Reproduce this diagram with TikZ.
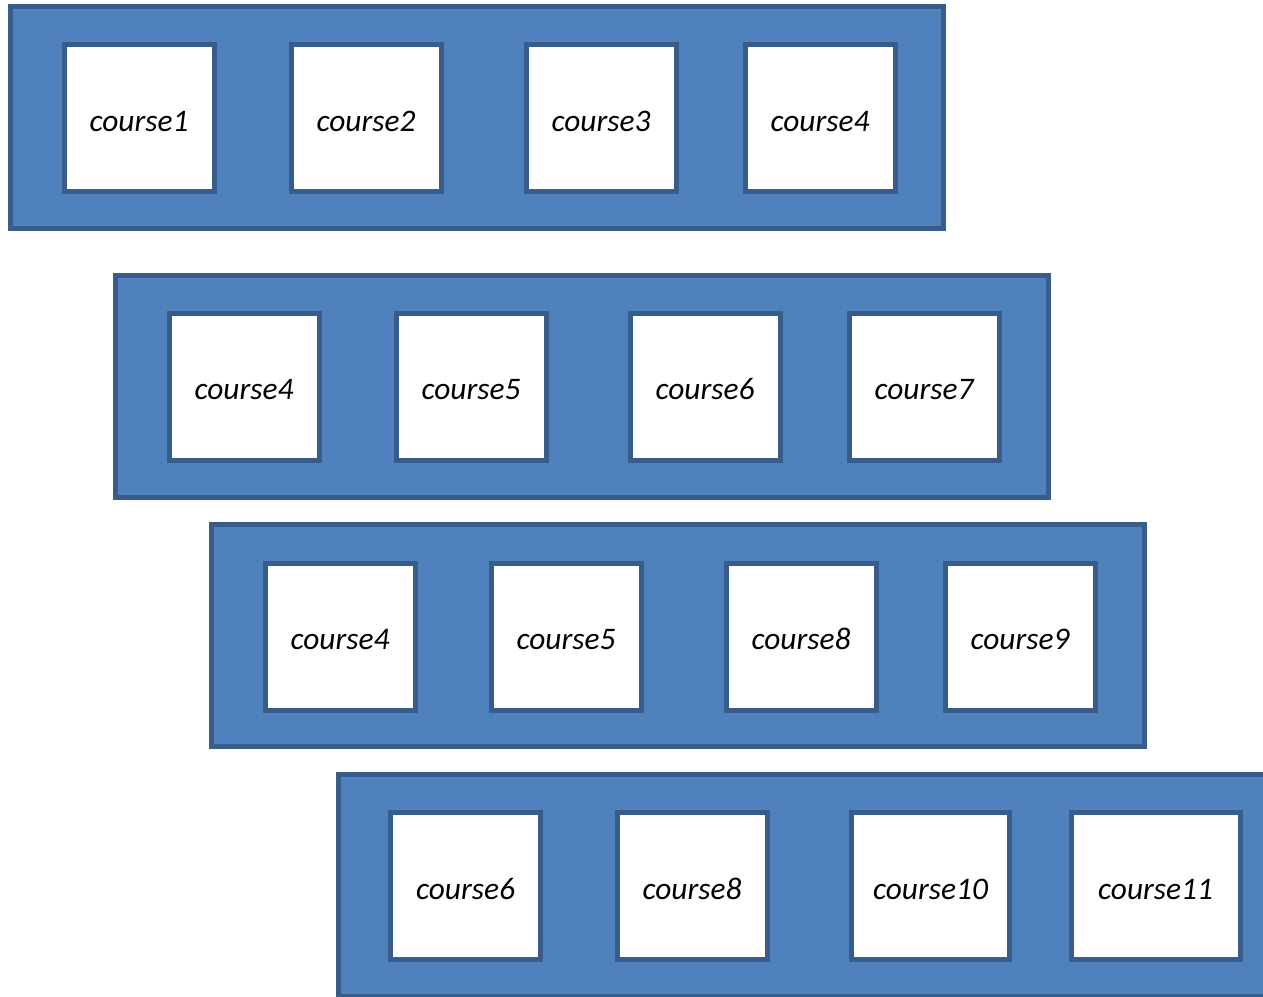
\documentclass[tikz,border=0pt]{standalone}
\usepackage{fontspec}
\setmainfont{Carlito}
\definecolor{laneblue}{HTML}{4F81BD}
\definecolor{laneedge}{HTML}{385D8A}
\begin{document}
\begin{tikzpicture}[x=0.5pt,y=-0.5pt]

    \tikzset{
      lane/.style={
        draw=laneedge,
        fill=laneblue,
        line width=2.5pt,
        anchor=north west,
        outer sep=0pt,
        inner sep=0pt,
        minimum width=466.5pt,
        minimum height=111pt,
      },
      course/.style={
        draw=laneedge,
        fill=white,
        line width=2.5pt,
        anchor=north west,
        outer sep=0pt,
        inner sep=0pt,
        minimum width=75pt,
        minimum height=73.5pt,
        text height=13pt,
        text depth=0pt,
        font=\fontsize{15.7}{18}\selectfont\itshape,
      },
    }
    \useasboundingbox (0,0) rectangle (1263,996);
    \clip (0,0) rectangle (1263,996);

	\node[lane] (lane1) at (10.5,6.5) {};
	\node[lane] (lane2) at (115.5,275.5) {};
	\node[lane] (lane3) at (211.5,524.5) {};
	\node[lane] (lane4) at (338.5,774.5) {};

	\node[course] (r1c1) at (64,44.5) {course1};
	\node[course] (r1c2) at (291,44.5) {course2};
	\node[course] (r1c3) at (526,44.5) {course3};
	\node[course] (r1c4) at (745,44.5) {course4};

	\node[course] (r2c1) at (169,313) {course4};
	\node[course] (r2c2) at (396,313) {course5};
	\node[course] (r2c3) at (630,313) {course6};
	\node[course] (r2c4) at (849,313) {course7};

	\node[course] (r3c1) at (265,563) {course4};
	\node[course] (r3c2) at (491,563) {course5};
	\node[course] (r3c3) at (726,563) {course8};
	\node[course] (r3c4) at (945,563) {course9};

	\node[course] (r4c1) at (390.5,812.5) {course6};
	\node[course] (r4c2) at (617,812.5) {course8};
	\node[course,minimum width=79pt] (r4c3) at (851.5,812.5) {course10};
	\node[course,minimum width=84.5pt] (r4c4) at (1071,812.5) {course11};

\end{tikzpicture}
\end{document}
